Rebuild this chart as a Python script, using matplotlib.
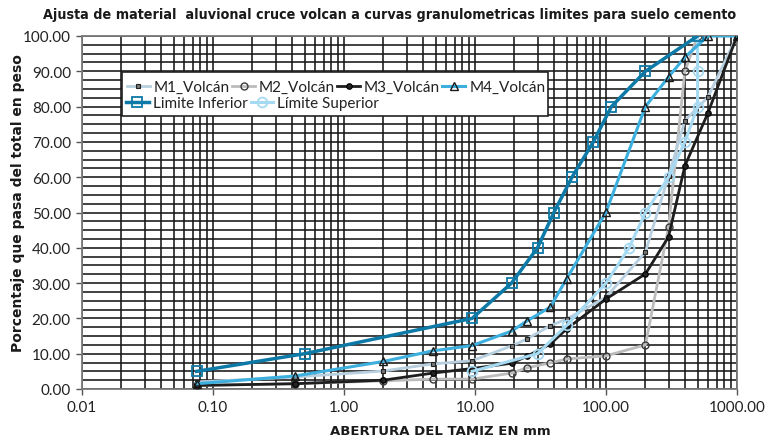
import matplotlib
matplotlib.use("Agg")
import matplotlib.pyplot as plt
from matplotlib.patches import Rectangle
from matplotlib.ticker import FixedLocator, LogLocator, NullFormatter, FuncFormatter

# ---------------- data ----------------
sieves = [0.075, 0.425, 2, 4.75, 9.5, 19, 25, 37.5, 50, 100, 200, 300, 400, 600, 1000]
m1 = [2.0, 3.4, 5.1, 7.1, 8.0, 12.2, 14.2, 17.9, 19.8, 26.0, 38.8, 60.3, 76.0, 82.7, 100.0]
m3 = [1.0, 1.5, 2.5, 4.5, 5.8, 7.3, 9.3, 12.7, 17.0, 25.5, 32.6, 43.1, 63.2, 78.2, 100.0]
m4 = [1.5, 3.7, 7.8, 10.8, 12.3, 16.4, 19.3, 23.2, 31.2, 50.1, 80.0, 88.4, 94.0, 100.0, 100.0]

m2_x = [0.075, 0.425, 2, 4.75, 9.5, 19, 25, 37.5, 50, 100, 200, 300, 400, 500]
m2 = [1.0, 1.5, 2.3, 2.8, 2.8, 4.5, 6.0, 7.4, 8.5, 9.4, 12.5, 45.9, 90.0, 100.0]

lim_inf_x = [0.075, 0.5, 9.5, 19, 30, 40, 55, 80, 110, 200, 500]
lim_inf = [5, 10, 20, 30, 40, 50, 60, 70, 80, 90, 100]

lim_sup_x = [9.5, 30, 50, 100, 150, 200, 300, 400, 500, 500, 500]
lim_sup = [5, 10, 18, 30, 40, 50, 60, 70, 80, 90, 100]

x_ticks = [0.01, 0.1, 1, 10, 100, 1000]
y_ticks = [0, 10, 20, 30, 40, 50, 60, 70, 80, 90, 100]

title = "Ajusta de material  aluvional cruce volcan a curvas granulometricas limites para suelo cemento"
xlabel = "ABERTURA DEL TAMIZ EN mm"
ylabel = "Porcentaje que pasa del total en peso"

# ---------------- figure ----------------
W, H = 780, 439
fig = plt.figure(figsize=(W / 100, H / 100), dpi=100)
L, R, T, B = 82, 737, 37, 390
ax = fig.add_axes([L / W, 1 - B / H, (R - L) / W, (B - T) / H])

ax.set_xscale("log")
ax.set_xlim(0.01, 1000)
ax.set_ylim(0, 100)

grid_c = "#161616"
ax.xaxis.set_major_locator(FixedLocator(x_ticks))
ax.xaxis.set_minor_locator(LogLocator(base=10, subs=range(2, 10), numticks=20))
ax.xaxis.set_minor_formatter(NullFormatter())
ax.xaxis.set_major_formatter(FuncFormatter(lambda v, p: f"{v:.2f}"))
ax.yaxis.set_major_locator(FixedLocator(y_ticks))
ax.yaxis.set_minor_locator(FixedLocator([v + d for v in range(0, 100, 10) for d in (2.5, 5, 7.5)]))
ax.yaxis.set_major_formatter(FuncFormatter(lambda v, p: f"{v:.2f}"))

ax.grid(True, which="both", color=grid_c, lw=1.15, zorder=0)
ax.set_axisbelow(True)
ax.tick_params(axis="both", which="major", length=4, width=1, color="#555555",
               labelsize=11, pad=4)
ax.tick_params(axis="both", which="minor", length=0)
for lab in ax.get_xticklabels() + ax.get_yticklabels():
    lab.set_family(["Lato", "DejaVu Sans"])
    lab.set_color("#222222")
for s in ax.spines.values():
    s.set_color("#7a7a7a")
    s.set_linewidth(1.3)

c_inf = "#0d79a6"
c_m4 = "#3cafdf"
c_sup = "#a6daf2"
c_m1 = "#b7cfdf"
c_m2 = "#bcbcbc"
c_m3 = "#1e1e1e"

h_m2, = ax.plot(m2_x, m2, color=c_m2, lw=2.0, marker="o", ms=5, mfc="none",
                mec="#3a3a3a", mew=1.0, zorder=3, label="M2_Volcán")
h_m1, = ax.plot(sieves, m1, color=c_m1, lw=2.0, marker="s", ms=3.5, mfc="#777777",
                mec="#222222", mew=0.8, zorder=4, label="M1_Volcán")
h_m3, = ax.plot(sieves, m3, color=c_m3, lw=2.0, marker="o", ms=4, mfc="#222222",
                mec="#000000", mew=0.8, zorder=5, label="M3_Volcán")
h_sup, = ax.plot(lim_sup_x, lim_sup, color=c_sup, lw=2.2, marker="o", ms=7, mfc="none",
                 mec=c_sup, mew=1.3, zorder=6, label="Limite Superior")
h_m4, = ax.plot(sieves, m4, color=c_m4, lw=2.2, marker="^", ms=6, mfc="none",
                mec="#1a1a1a", mew=1.0, zorder=7, label="M4_Volcán")
h_inf, = ax.plot(lim_inf_x, lim_inf, color=c_inf, lw=2.5, marker="s", ms=7, mfc="none",
                 mec=c_inf, mew=1.3, zorder=8, label="Limite Inferior")

# legend frame
def ax_x(px):
    return (px - L) / (R - L)

def ax_y(py):
    return (B - py) / (B - T)

ax.add_patch(Rectangle((ax_x(122), ax_y(117)), ax_x(548) - ax_x(122), ax_y(73) - ax_y(117),
                       transform=ax.transAxes, facecolor="white", edgecolor="#222222",
                       lw=1.2, zorder=10))
leg_font = {"family": ["Lato", "DejaVu Sans"], "size": 11}
leg1 = ax.legend([h_m1, h_m2, h_m3, h_m4], ["M1_Volcán", "M2_Volcán", "M3_Volcán", "M4_Volcán"],
                 loc="center left", bbox_to_anchor=(ax_x(127), ax_y(88)), ncol=4,
                 frameon=False, prop=leg_font, handlelength=1.5, handletextpad=0.25,
                 columnspacing=0.15, borderpad=0, borderaxespad=0, labelcolor="#222222")
leg1.set_zorder(11)
ax.add_artist(leg1)
leg2 = ax.legend([h_inf, h_sup], ["Limite Inferior", "Límite Superior"],
                 loc="center left", bbox_to_anchor=(ax_x(126), ax_y(104)), ncol=2,
                 frameon=False, prop=leg_font, handlelength=1.5, handletextpad=0.25,
                 columnspacing=0.2, borderpad=0, borderaxespad=0, labelcolor="#222222")
leg2.set_zorder(11)

fig.text(390 / W, 1 - 15 / H, title, ha="center", va="center", fontsize=10.3,
         fontweight="bold", family=["DejaVu Sans"], stretch="condensed", color="#1a1a1a")
fig.text(440 / W, 1 - 432 / H, xlabel, ha="center", va="center", fontsize=9.5,
         fontweight="bold", family=["DejaVu Sans"], color="#1a1a1a")
fig.text(18 / W, 1 - 203 / H, ylabel, ha="center", va="center", rotation=90, fontsize=10,
         fontweight="bold", family=["DejaVu Sans"], color="#1a1a1a")

fig.savefig("out.png", dpi=100)
